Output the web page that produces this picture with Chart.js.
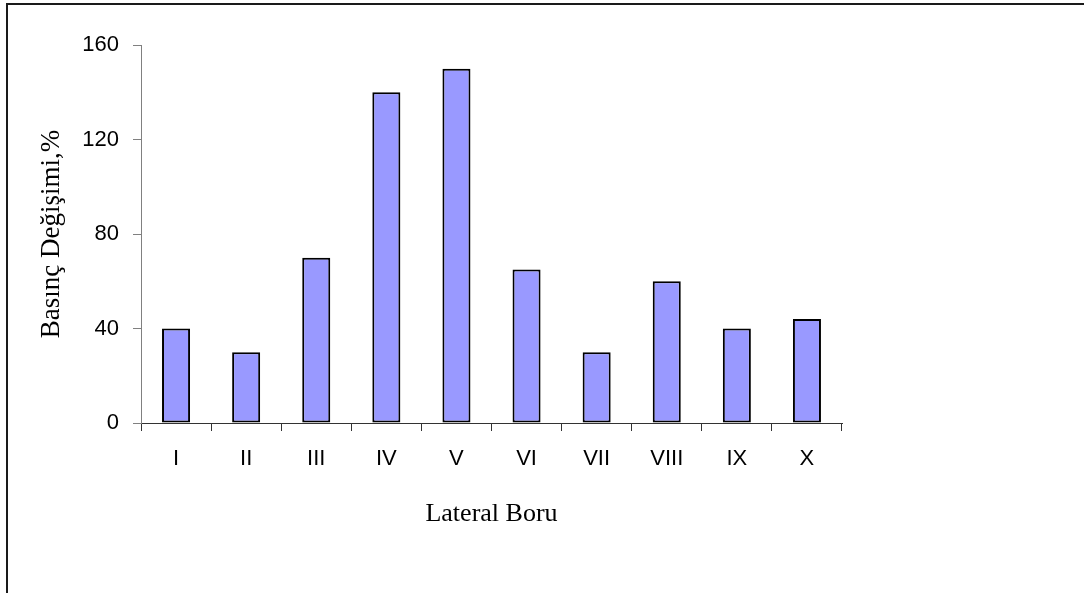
<!DOCTYPE html>
<html>
<head>
<meta charset="utf-8">
<style>
  html, body { margin: 0; padding: 0; background: #ffffff; }
  #wrap { position: relative; width: 1084px; height: 593px; }
</style>
<script src="https://cdn.jsdelivr.net/npm/chart.js@4"></script>
</head>
<body>
<div id="wrap"><canvas id="c" width="1084" height="593"></canvas></div>
<script>
// Lateral pipes and their pressure change (%)
const categories = ['I', 'II', 'III', 'IV', 'V', 'VI', 'VII', 'VIII', 'IX', 'X'];
const pressureChange = [40, 30, 70, 140, 150, 65, 30, 60, 40, 44];
const yTicks = [0, 40, 80, 120, 160];

// Frame around the whole figure (left and top edges are visible)
const framePlugin = {
  id: 'frame',
  beforeDraw(chart) {
    const ctx = chart.ctx;
    ctx.save();
    ctx.fillStyle = '#ffffff';
    ctx.fillRect(0, 0, chart.width, chart.height);
    ctx.strokeStyle = '#1a1a1a';
    ctx.lineWidth = 2;
    ctx.beginPath();
    ctx.moveTo(7, chart.height + 2);
    ctx.lineTo(7, 4);
    ctx.lineTo(chart.width + 2, 4);
    ctx.stroke();
    ctx.restore();
  }
};

new Chart(document.getElementById('c'), {
  type: 'bar',
  data: {
    labels: categories,
    datasets: [{
      data: pressureChange,
      backgroundColor: '#9999ff',
      borderColor: '#000000',
      borderWidth: 2,
      borderSkipped: false,
      barPercentage: 0.4,
      categoryPercentage: 1.0
    }]
  },
  options: {
    responsive: false,
    animation: false,
    devicePixelRatio: 1,
    layout: { padding: { left: 36, top: 45, right: 242, bottom: 63 } },
    plugins: {
      legend: { display: false },
      tooltip: { enabled: false }
    },
    scales: {
      x: {
        grid: {
          offset: true,
          drawOnChartArea: false,
          drawTicks: true,
          tickLength: 8,
          color: '#333333'
        },
        border: { color: '#333333', width: 1 },
        ticks: {
          color: '#000000',
          padding: 15,
          font: { family: 'Liberation Sans, Arial, sans-serif', size: 22 }
        },
        title: {
          display: true,
          text: 'Lateral Boru',
          color: '#000000',
          padding: 0,
          font: { family: 'Liberation Serif, Times New Roman, serif', size: 26 }
        },
        afterFit(scale) { scale.height = 107; }
      },
      y: {
        min: 0,
        max: 160,
        afterBuildTicks(scale) { scale.ticks = yTicks.map(v => ({ value: v })); },
        grid: {
          drawOnChartArea: false,
          drawTicks: true,
          tickLength: 8,
          color: '#808080'
        },
        border: { color: '#808080', width: 1 },
        ticks: {
          color: '#000000',
          padding: 14,
          font: { family: 'Liberation Sans, Arial, sans-serif', size: 22 }
        },
        title: {
          display: true,
          text: 'Basınç Değişimi,%',
          color: '#000000',
          padding: 0,
          font: { family: 'Liberation Serif, Times New Roman, serif', size: 27 }
        },
        afterFit(scale) { scale.width = 105; }
      }
    }
  },
  plugins: [framePlugin]
});
</script>
</body>
</html>
